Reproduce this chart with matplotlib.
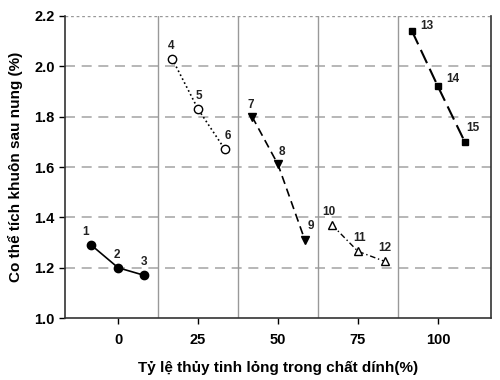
import matplotlib
matplotlib.use("Agg")
import matplotlib.pyplot as plt

plt.rcParams['font.family'] = ['Liberation Sans', 'DejaVu Sans']

# series data
s1_x = [-8.4, 0, 8.1];      s1_y = [1.29, 1.20, 1.17]
s2_x = [16.9, 25, 33.4];    s2_y = [2.03, 1.83, 1.67]
s3_x = [41.9, 50, 58.4];    s3_y = [1.80, 1.61, 1.31]
s4_x = [66.9, 75, 83.4];    s4_y = [1.37, 1.265, 1.225]
s5_x = [91.9, 100, 108.4];  s5_y = [2.14, 1.92, 1.70]
point_labels = [str(i) for i in range(1, 16)]
x_ticks = [0, 25, 50, 75, 100]
y_ticks = [1.0, 1.2, 1.4, 1.6, 1.8, 2.0, 2.2]
separators = [12.5, 37.5, 62.5, 87.5]

fig = plt.figure(figsize=(5, 3.8), dpi=100)
ax = fig.add_axes([0.13, 0.163, 0.852, 0.795])
ax.set_xlim(-16.6, 116.6)
ax.set_ylim(1.0, 2.2)

for y in y_ticks[1:-1]:
    ax.axhline(y, color='#aaaaaa', lw=1.2, ls=(0, (6, 4)), zorder=1)
ax.axhline(2.2, color='#999999', lw=1.0, ls=(0, (2, 2)), zorder=1)
for xs in separators:
    ax.axvline(xs, color='#999999', lw=1.0, zorder=1)

ax.plot(s1_x, s1_y, color='black', lw=1.2, ls='-', marker='o', ms=6, mfc='black', mec='black', zorder=3)
ax.plot(s2_x, s2_y, color='black', lw=1.2, ls=':', marker='o', ms=6, mfc='white', mec='black', mew=1.0, zorder=3)
ax.plot(s3_x, s3_y, color='black', lw=1.2, ls=(0, (5, 3)), marker='v', ms=6, mfc='black', mec='black', zorder=3)
ax.plot(s4_x, s4_y, color='black', lw=1.0, ls=(0, (4, 2, 1, 2)), marker='^', ms=6, mfc='white', mec='black', mew=1.0, zorder=3)
ax.plot(s5_x, s5_y, color='black', lw=1.5, ls=(0, (7, 3)), marker='s', ms=5, mfc='black', mec='black', zorder=3)

all_x = s1_x + s2_x + s3_x + s4_x + s5_x
all_y = s1_y + s2_y + s3_y + s4_y + s5_y
offsets = [(-4, 5), (-1, 5), (0, 5), (-1, 5), (1, 5), (2, 5),
           (-1, 4), (3, 5), (4, 6), (-2, 5), (1, 5), (0, 5),
           (11, -1), (11, 1), (6, 6)]
for lab, x, y, (dx, dy) in zip(point_labels, all_x, all_y, offsets):
    ax.annotate(lab, (x, y), xytext=(dx, dy), textcoords='offset points',
                ha='center', va='bottom', fontsize=8.5, fontweight='bold',
                color='#222222', zorder=4)

ax.set_xticks(x_ticks)
ax.set_yticks(y_ticks)
ax.set_yticklabels([f"{v:.1f}" for v in y_ticks])
ax.tick_params(axis='both', labelsize=10.5, direction='out', length=4, width=1)
for lab in ax.get_xticklabels() + ax.get_yticklabels():
    lab.set_fontweight('bold')
ax.tick_params(axis='x', pad=7)

ax.spines['top'].set_visible(False)
for sp in ['left', 'bottom', 'right']:
    ax.spines[sp].set_color('#333333')
    ax.spines[sp].set_linewidth(1.2)

ax.set_xlabel('Tỷ lệ thủy tinh lỏng trong chất dính(%)', fontsize=11, fontweight='bold', labelpad=10)
ax.set_ylabel('Co thể tích khuôn sau nung (%)', fontsize=11, fontweight='bold', labelpad=8)

fig.savefig('out.png', dpi=100)
